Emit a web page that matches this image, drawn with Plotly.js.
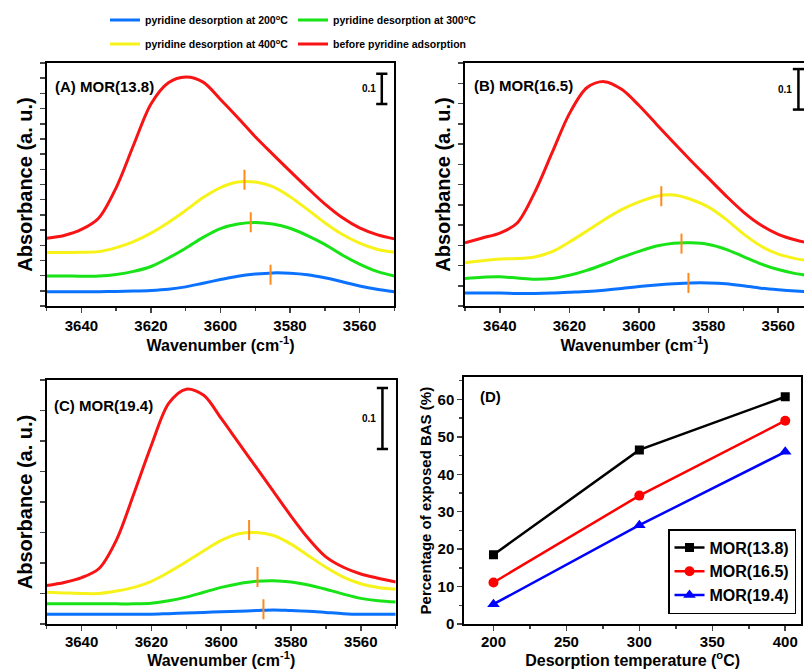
<!DOCTYPE html>
<html><head><meta charset="utf-8">
<script src="https://cdn.plot.ly/plotly-3.0.1.min.js"></script>
<style>html,body{margin:0;padding:0;background:#fff}#plot{width:804px;height:669px}</style>
</head><body><div id="plot"></div>
<script>
// ---------- data ----------
const wavenumber = [3650,3645,3640,3635,3630,3625,3620,3615,3610,3605,3600,3595,3590,3585,3580,3575,3570,3565,3560,3555,3550];

const A_before = [0.223,0.232,0.252,0.29,0.39,0.53,0.665,0.735,0.754,0.737,0.68,0.62,0.557,0.5,0.444,0.389,0.336,0.291,0.257,0.235,0.221];
const A_400 = [0.176,0.176,0.177,0.179,0.192,0.212,0.24,0.275,0.315,0.357,0.39,0.408,0.408,0.393,0.36,0.318,0.274,0.236,0.207,0.187,0.177];
const A_300 = [0.099,0.099,0.098,0.099,0.104,0.114,0.13,0.158,0.19,0.226,0.255,0.27,0.275,0.27,0.256,0.232,0.203,0.168,0.138,0.114,0.099];
const A_200 = [0.047,0.047,0.047,0.047,0.048,0.049,0.051,0.055,0.063,0.075,0.087,0.098,0.105,0.109,0.108,0.103,0.093,0.08,0.066,0.055,0.047];

const B_before = [0.156,0.168,0.18,0.205,0.28,0.378,0.475,0.539,0.554,0.535,0.495,0.449,0.403,0.358,0.315,0.272,0.232,0.2,0.177,0.163,0.153];
const B_400 = [0.107,0.112,0.116,0.117,0.121,0.134,0.158,0.185,0.213,0.238,0.257,0.271,0.274,0.263,0.244,0.214,0.178,0.148,0.128,0.117,0.11];
const B_300 = [0.068,0.071,0.072,0.069,0.066,0.068,0.076,0.088,0.103,0.12,0.135,0.148,0.155,0.156,0.152,0.14,0.122,0.104,0.09,0.08,0.074];
const B_200 = [0.032,0.032,0.032,0.031,0.031,0.032,0.034,0.036,0.039,0.043,0.048,0.052,0.055,0.057,0.057,0.055,0.05,0.044,0.04,0.037,0.035];

const C_before = [0.063,0.068,0.076,0.091,0.138,0.214,0.293,0.362,0.385,0.375,0.337,0.297,0.257,0.217,0.177,0.14,0.11,0.093,0.082,0.075,0.069];
const C_400 = [0.052,0.051,0.05,0.05,0.054,0.06,0.07,0.085,0.102,0.12,0.137,0.148,0.15,0.145,0.131,0.112,0.093,0.077,0.066,0.06,0.057];
const C_300 = [0.033,0.033,0.033,0.033,0.033,0.033,0.034,0.038,0.044,0.052,0.06,0.066,0.07,0.071,0.069,0.064,0.057,0.049,0.042,0.038,0.036];
const C_200 = [0.016,0.016,0.016,0.016,0.016,0.016,0.016,0.017,0.018,0.019,0.02,0.021,0.022,0.023,0.022,0.021,0.019,0.017,0.016,0.016,0.016];

// peak positions (200, 300, 400 °C)
const A_peakWN = [3585.6, 3591.3, 3593.1], A_peakAbs = [0.103, 0.276, 0.416];
const B_peakWN = [3585.8, 3587.8, 3593.6], B_peakAbs = [0.057, 0.154, 0.271];
const C_peakWN = [3587.9, 3589.6, 3592.0], C_peakAbs = [0.024, 0.077, 0.154];

// scale bars (0.1 absorbance)
const scaleBarWN = [3553.6, 3554.2, 3553.8];
const scaleBarBase = [0.665, 0.485, 0.287];
const scaleBarSize = 0.1;

// panel D
const temps = [200, 300, 400];
const mor138 = [18.5, 46.5, 60.7];
const mor165 = [11.1, 34.3, 54.3];
const mor194 = [5.3, 26.4, 46.0];

const seriesNames = ['pyridine desorption at 200<sup>o</sup>C','pyridine desorption at 300<sup>o</sup>C','pyridine desorption at 400<sup>o</sup>C','before pyridine adsorption'];
const panelLabels = ['(A) MOR(13.8)','(B) MOR(16.5)','(C) MOR(19.4)','(D)'];
const sampleNames = ['MOR(13.8)','MOR(16.5)','MOR(19.4)'];

// ---------- styles ----------
const FONT = 'Liberation Sans, Arial, Helvetica, sans-serif';
const colors = ['#0a72ff','#17e317','#f7f21a','#f81414'];
const legendIds = ['legend','legend','legend2','legend2'];
const W = 804, H = 669;
const px = v => v / W, py = v => 1 - v / H;

const panels = [
  {sets:[A_200,A_300,A_400,A_before], pk:[A_peakWN,A_peakAbs], xa:'x', ya:'y'},
  {sets:[B_200,B_300,B_400,B_before], pk:[B_peakWN,B_peakAbs], xa:'x2', ya:'y2'},
  {sets:[C_200,C_300,C_400,C_before], pk:[C_peakWN,C_peakAbs], xa:'x3', ya:'y3'}
];

const traces = [];
const shapes = [];
const annotations = [];
panels.forEach((p, pi) => {
  p.sets.forEach((ys, si) => {
    traces.push({
      type:'scatter', mode:'lines', x: wavenumber, y: ys, xaxis:p.xa, yaxis:p.ya,
      line:{color:colors[si], width:3, shape:'spline', smoothing:0.9},
      name: seriesNames[si], legend: legendIds[si], legendgroup:'s'+si,
      showlegend: pi === 0, hoverinfo:'skip'
    });
  });
  p.pk[0].forEach((wn, k) => {
    shapes.push({type:'line', xref:p.xa, yref:p.ya, ysizemode:'pixel', yanchor:p.pk[1][k],
      x0:wn, x1:wn, y0:-10, y1:10, line:{color:'#ff8a1c', width:2}});
  });
  traces.push({
    type:'scatter', mode:'lines+markers', xaxis:p.xa, yaxis:p.ya, showlegend:false, hoverinfo:'skip',
    x:[scaleBarWN[pi], scaleBarWN[pi]], y:[scaleBarBase[pi], scaleBarBase[pi] + scaleBarSize],
    line:{color:'#000', width:2.5},
    marker:{symbol:'line-ew', size:8, color:'#000', line:{color:'#000', width:2.5}}
  });
  annotations.push({xref:p.xa, yref:p.ya, x:scaleBarWN[pi], y:scaleBarBase[pi] + scaleBarSize/2,
    text:'0.1', showarrow:false, xanchor:'right', xshift:-4, font:{family:FONT, size:10, weight:700, color:'#000'}});
});

const dSeries = [[mor138,'#000000','square',9],[mor165,'#ff0000','circle',10],[mor194,'#0000ff','triangle-up',11]];
dSeries.forEach((d, i) => {
  traces.push({type:'scatter', mode:'lines+markers', x:temps, y:d[0], xaxis:'x4', yaxis:'y4',
    name: sampleNames[i], legend:'legend3', hoverinfo:'skip',
    line:{color:d[1], width:2.5}, marker:{symbol:d[2], size:d[3], color:d[1]}});
});

const labelPos = [[53,86.5],[472,85],[52,405],[478,396]];
panelLabels.forEach((t, i) => annotations.push({xref:'paper', yref:'paper', x:px(labelPos[i][0]), y:py(labelPos[i][1]),
  xanchor:'left', yanchor:'middle', showarrow:false, text:t, font:{family:FONT, size:15, weight:700, color:'#000'}}));

const tickFont = {family:FONT, size:15, weight:700, color:'#000'};
function specX(dom, rng, anchor, standoff, tlShift) {
  return {domain:dom, range:rng, anchor:anchor, tick0:0, dtick:20, ticks:'outside', ticklen:5, tickwidth:1.5,
    minor:{dtick:10, ticks:'outside', ticklen:3, tickwidth:1.5},
    showline:true, linewidth:2, linecolor:'#000', mirror:true, showgrid:false, zeroline:false,
    tickfont:tickFont, automargin:false, ticklabelstandoff:tlShift,
    title:{text:'Wavenumber (cm<sup>-1</sup>)', font:{family:FONT, size:16, weight:700, color:'#000'}, standoff:standoff}};
}
function specY(dom, rng, anchor, mirror) {
  return {domain:dom, range:rng, anchor:anchor, tick0:0, dtick:0.05, ticks:'outside', ticklen:5, tickwidth:1.5,
    showticklabels:false, showline:true, linewidth:2, linecolor:'#000', mirror:mirror, showgrid:false, zeroline:false,
    automargin:false,
    title:{text:'Absorbance (a. u.)', font:{family:FONT, size:20, weight:700, color:'#000'}, standoff:2}};
}

const legendFont = {family:FONT, size:10.5, weight:700, color:'#000'};
const layout = {
  width:W, height:H, margin:{l:0, r:0, t:0, b:0}, paper_bgcolor:'#fff', plot_bgcolor:'#fff',
  font:{family:FONT, weight:700, color:'#000'},
  xaxis: specX([px(46.7), px(394.3)], [3650, 3550], 'y', 2, 0),
  yaxis: specY([py(306), py(63)], [0, 0.8], 'x', true),
  xaxis2: specX([px(465), 1], [3650, 3552.6], 'y2', 2, 0),
  yaxis2: specY([py(306), py(63)], [0, 0.6], 'x2', false),
  xaxis3: specX([px(46.7), px(395.7)], [3650, 3550], 'y3', 5, -2),
  yaxis3: specY([py(624), py(380)], [0, 0.4], 'x3', true),
  xaxis4: {domain:[px(464.3), px(801)], range:[180, 410.8], anchor:'y4', tick0:0, dtick:50, ticks:'outside', ticklen:5, tickwidth:1.5,
    minor:{dtick:25, ticks:'outside', ticklen:3, tickwidth:1.5}, ticklabelstandoff:-2,
    showline:true, linewidth:2, linecolor:'#000', mirror:true, showgrid:false, zeroline:false, tickfont:tickFont, automargin:false,
    title:{text:'Desorption temperature (<sup>o</sup>C)', font:{family:FONT, size:16, weight:700, color:'#000'}, standoff:5}},
  yaxis4: {domain:[py(624), py(377.3)], range:[0, 65.9], anchor:'x4', tick0:0, dtick:10, ticks:'outside', ticklen:5, tickwidth:1.5,
    minor:{dtick:5, ticks:'outside', ticklen:3, tickwidth:1.5},
    showline:true, linewidth:2, linecolor:'#000', mirror:true, showgrid:false, zeroline:false, tickfont:tickFont, automargin:false,
    title:{text:'Percentage of exposed BAS (%)', font:{family:FONT, size:15, weight:700, color:'#000'}, standoff:2}},
  legend: {orientation:'h', x:px(105), xanchor:'left', y:py(20), yanchor:'middle', entrywidth:143, entrywidthmode:'pixels',
    bgcolor:'rgba(0,0,0,0)', font:legendFont, itemclick:false},
  legend2: {orientation:'h', x:px(105), xanchor:'left', y:py(44), yanchor:'middle', entrywidth:143, entrywidthmode:'pixels',
    bgcolor:'rgba(0,0,0,0)', font:legendFont, itemclick:false},
  legend3: {x:px(668), xanchor:'left', y:py(529), yanchor:'top', bgcolor:'#fff', bordercolor:'#000', borderwidth:1.5,
    font:{family:FONT, size:16, weight:700, color:'#000'}, itemclick:false, tracegroupgap:0},
  shapes: shapes,
  annotations: annotations
};

Plotly.newPlot('plot', traces, layout, {staticPlot:true, displayModeBar:false});
</script></body></html>
